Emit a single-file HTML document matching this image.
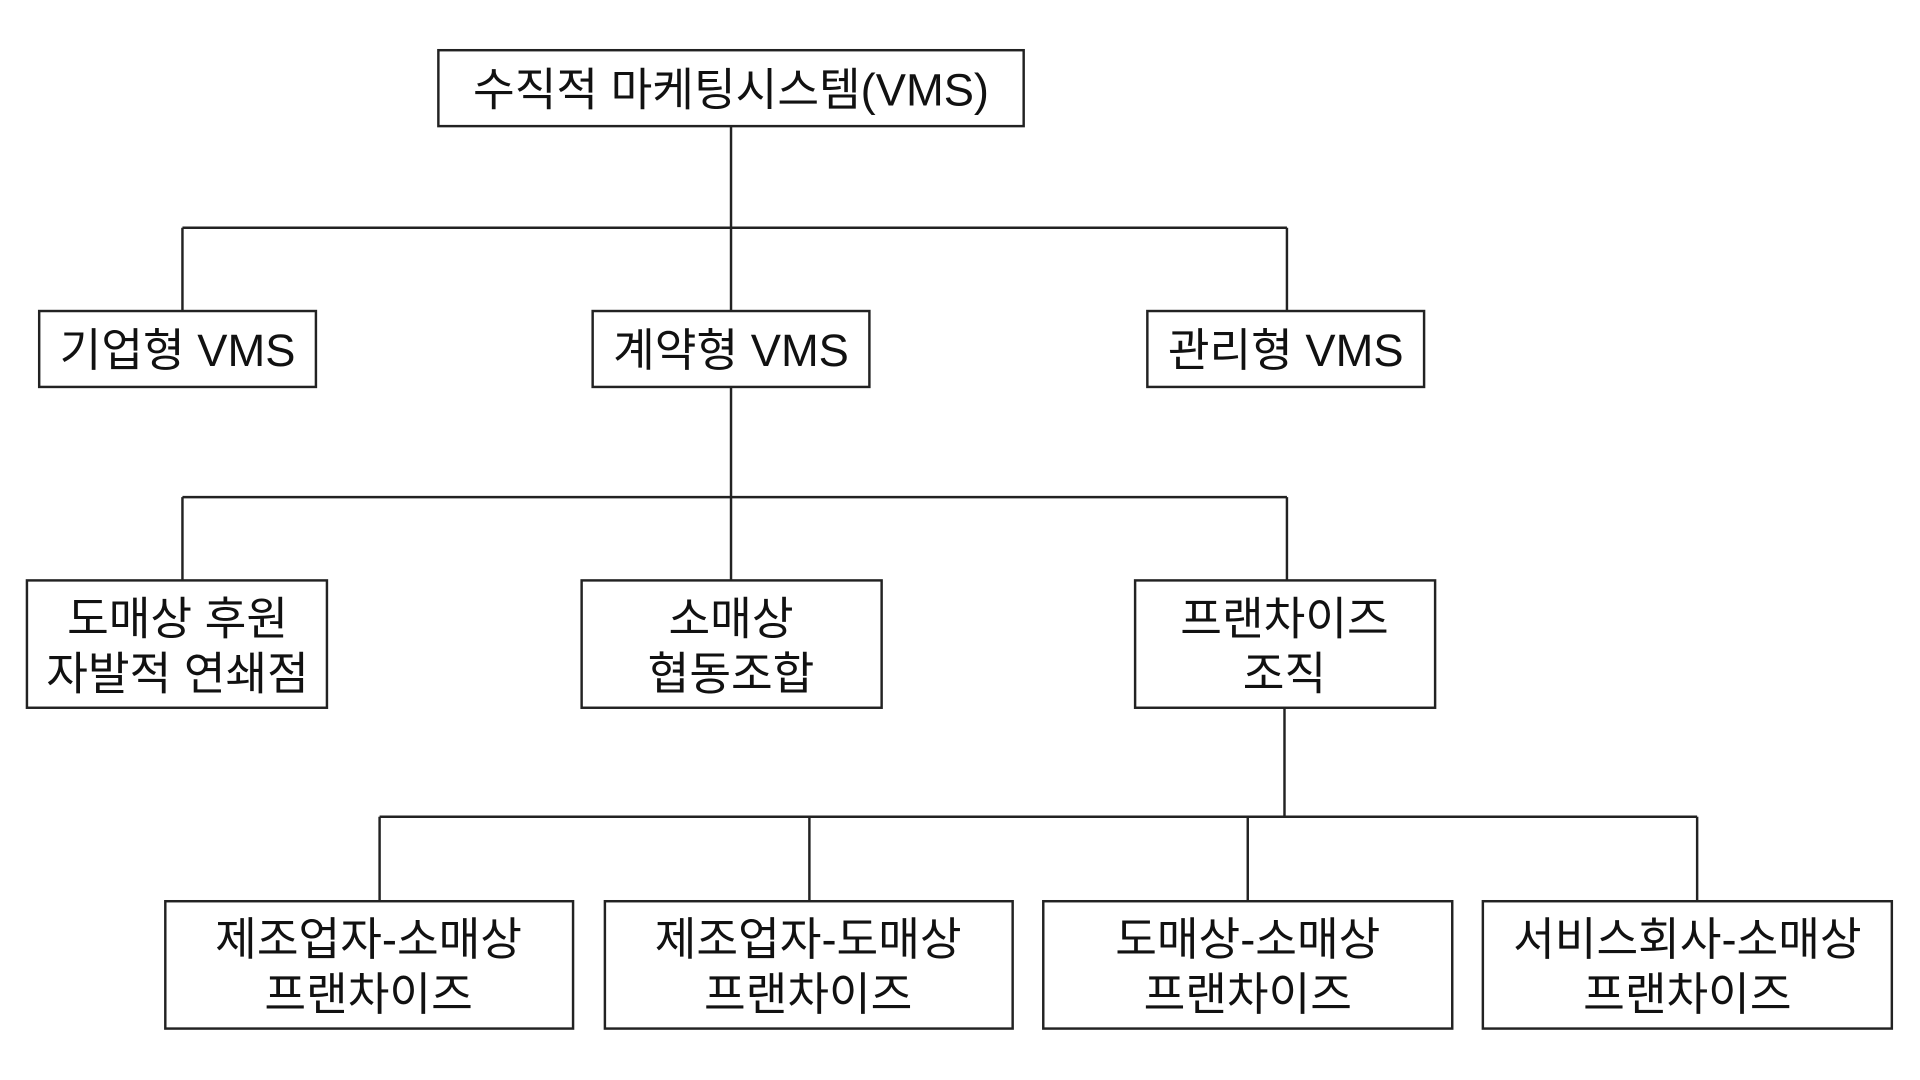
<!DOCTYPE html>
<html><head><meta charset="utf-8"><style>html,body{margin:0;padding:0;background:#fff}svg{display:block}</style></head>
<body>
<svg width="1920" height="1080" viewBox="0 0 1568 882" preserveAspectRatio="none" xmlns="http://www.w3.org/2000/svg">
<g stroke="#222" stroke-width="2" fill="none">
<line x1="597" y1="103" x2="597" y2="254"/>
<line x1="149" y1="186" x2="1051" y2="186"/>
<line x1="149" y1="186" x2="149" y2="254"/>
<line x1="1051" y1="186" x2="1051" y2="254"/>
<line x1="597" y1="316" x2="597" y2="474"/>
<line x1="149" y1="406" x2="1051" y2="406"/>
<line x1="149" y1="406" x2="149" y2="474"/>
<line x1="1051" y1="406" x2="1051" y2="474"/>
<line x1="1049" y1="578" x2="1049" y2="667"/>
<line x1="310" y1="667" x2="1386" y2="667"/>
<line x1="310" y1="667" x2="310" y2="736"/>
<line x1="661" y1="667" x2="661" y2="736"/>
<line x1="1019" y1="667" x2="1019" y2="736"/>
<line x1="1386" y1="667" x2="1386" y2="736"/>
<rect x="358" y="41" width="478" height="62"/>
<rect x="32" y="254" width="226" height="62"/>
<rect x="484" y="254" width="226" height="62"/>
<rect x="937" y="254" width="226" height="62"/>
<rect x="22" y="474" width="245" height="104"/>
<rect x="475" y="474" width="245" height="104"/>
<rect x="927" y="474" width="245" height="104"/>
<rect x="135" y="736" width="333" height="104"/>
<rect x="494" y="736" width="333" height="104"/>
<rect x="852" y="736" width="334" height="104"/>
<rect x="1211" y="736" width="334" height="104"/>
</g>
<g font-family="'Liberation Sans','Noto Sans CJK KR',sans-serif" font-size="37" fill="#111" text-anchor="middle">
<text x="597" y="86">수직적 마케팅시스템(VMS)</text>
<text x="145" y="299">기업형 VMS</text>
<text x="597" y="299">계약형 VMS</text>
<text x="1050" y="299">관리형 VMS</text>
<text x="145" y="518">도매상 후원</text>
<text x="145" y="563">자발적 연쇄점</text>
<text x="597" y="518">소매상</text>
<text x="597" y="563">협동조합</text>
<text x="1049" y="518">프랜차이즈</text>
<text x="1049" y="563">조직</text>
<text x="301" y="780">제조업자-소매상</text>
<text x="301" y="825">프랜차이즈</text>
<text x="660" y="780">제조업자-도매상</text>
<text x="660" y="825">프랜차이즈</text>
<text x="1019" y="780">도매상-소매상</text>
<text x="1019" y="825">프랜차이즈</text>
<text x="1378" y="780">서비스회사-소매상</text>
<text x="1378" y="825">프랜차이즈</text>
</g>
</svg>
</body></html>
